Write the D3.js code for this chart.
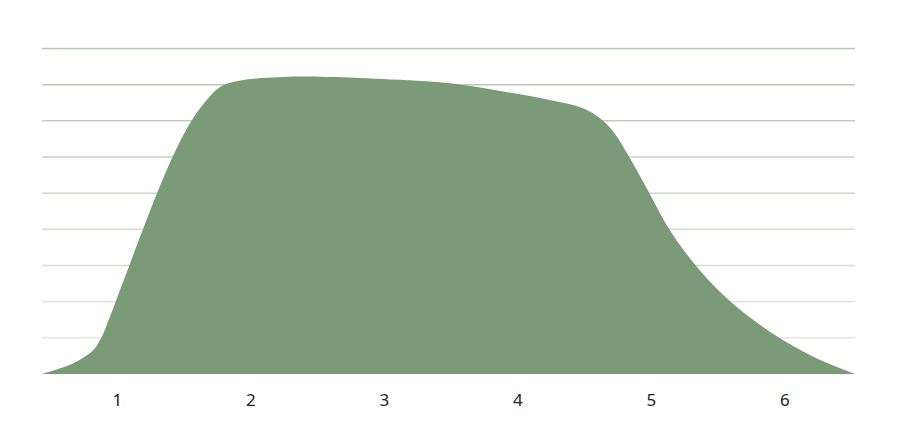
<!DOCTYPE html>
<html>
<head>
<meta charset="utf-8">
<script src="https://cdn.jsdelivr.net/npm/d3@7"></script>
<style>
  html, body { margin: 0; padding: 0; background: #ffffff; }
  svg { display: block; }
</style>
</head>
<body>
<svg id="chart" width="897" height="436"></svg>
<script>
// ---- data ----
const tickLabels = [1, 2, 3, 4, 5, 6];
const xValues = [0.44, 0.6745, 0.8243, 0.8872, 0.9494, 1.3741, 1.5486, 1.6737, 1.7734, 1.9232, 2.2453, 2.5224, 2.9944, 3.4962, 3.8708, 4.2453, 4.4925, 4.6199, 4.7195, 4.8446, 4.9697, 5.1195, 5.2191, 5.3442, 5.5435, 5.7188, 5.9682, 6.2177, 6.4177, 6.53];
const yValues = [0.00, 0.296, 0.664, 1.023, 1.590, 5.641, 6.932, 7.576, 7.935, 8.115, 8.212, 8.220, 8.157, 8.038, 7.825, 7.576, 7.347, 7.070, 6.700, 5.964, 5.135, 4.120, 3.567, 2.967, 2.184, 1.631, 0.987, 0.478, 0.158, 0.00];
const gridValues = [1, 2, 3, 4, 5, 6, 7, 8, 9];

const points = xValues.map((x, i) => ({ x, y: yValues[i] }));

const svg = d3.select("#chart");
const mLeft = 42, mRight = 855, mTop = 48.5, mBottom = 374;

const x = d3.scaleLinear().domain([0.44, 6.53]).range([mLeft, mRight]);
const y = d3.scaleLinear().domain([0, 9]).range([mBottom, mTop]);

const gridColor = d3.scaleLinear().domain([1, 9]).range(["#e4e8e1", "#b3c5ad"]);

// gridlines
svg.append("g").selectAll("line")
  .data(gridValues)
  .join("line")
  .attr("x1", mLeft).attr("x2", mRight)
  .attr("y1", d => y(d)).attr("y2", d => y(d))
  .attr("stroke", d => gridColor(d))
  .attr("stroke-width", 1.5);

// area
const area = d3.area()
  .x(d => x(d.x))
  .y0(y(0))
  .y1(d => y(d.y))
  .curve(d3.curveCatmullRom.alpha(0.5));

svg.append("path")
  .datum(points)
  .attr("d", area)
  .attr("fill", "#7b9a78");

// x axis labels
const axis = d3.axisBottom(x).tickValues(tickLabels).tickSize(0).tickPadding(0).tickFormat(d3.format("d"));
const ag = svg.append("g").attr("transform", `translate(0, ${mBottom})`).call(axis);
ag.select(".domain").remove();
ag.selectAll("text")
  .attr("dy", null)
  .attr("y", 32)
  .attr("fill", "#222222")
  .style("font-family", "'Noto Sans', 'Open Sans', sans-serif")
  .style("font-size", "17px");
</script>
</body>
</html>
